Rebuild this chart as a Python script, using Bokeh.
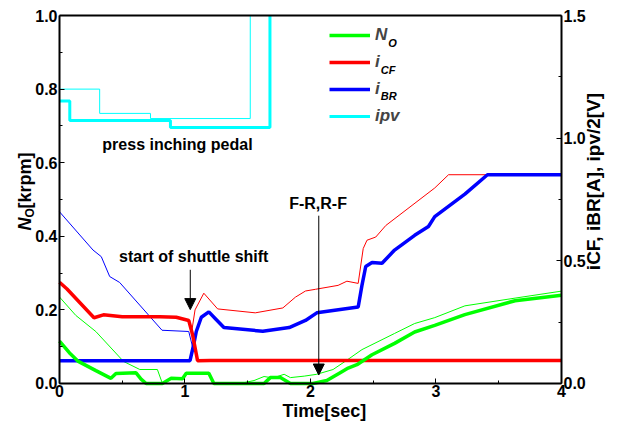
import math
from bokeh.plotting import figure
from bokeh.models import (Range1d, LinearAxis, Label, Legend, LegendItem, Arrow,
                          NormalHead, NumeralTickFormatter, FixedTicker)
from bokeh.embed import file_html
from bokeh.resources import INLINE

FONT = "Liberation Sans"

# ---------------- data ----------------
# Output speed N_O [krpm] (left axis) - thick and thin traces
t_no = [0, 0.08, 0.15, 0.29, 0.41, 0.45, 0.61, 0.65, 0.69, 0.82, 0.89, 0.98, 1.01, 1.19, 1.23,
        1.63, 1.68, 1.76, 1.84, 2.02, 2.13, 2.24, 2.30, 2.37, 2.49, 2.67, 2.83, 2.99, 3.23, 3.63, 4.0]
no = [0.115, 0.083, 0.06, 0.035, 0.014, 0.027, 0.029, 0.012, 0.0, 0.0, 0.014, 0.013, 0.028, 0.028, 0.0,
      0.0, 0.016, 0.016, 0.0, 0.0, 0.008, 0.03, 0.042, 0.051, 0.078, 0.109, 0.14, 0.158, 0.187, 0.225, 0.24]
t_no_thin = [0, 0.13, 0.29, 0.51, 0.64, 0.78, 0.82, 1.44, 1.55, 1.63, 1.70, 1.79, 1.84, 1.95, 2.05,
             2.18, 2.28, 2.41, 2.67, 2.83, 2.99, 3.23, 3.63, 4.0]
no_thin = [0.235, 0.185, 0.141, 0.06, 0.038, 0.038, 0.0, 0.0, 0.008, 0.019, 0.015, 0.025, 0.016, 0.02, 0.025,
           0.038, 0.061, 0.092, 0.136, 0.163, 0.179, 0.211, 0.232, 0.251]

# Clutch current i_CF [A] (right axis)
t_cf = [0, 0.06, 0.275, 0.35, 0.5, 0.8, 0.93, 1.03, 1.06, 1.10, 1.2, 2.0, 3.0, 4.0]
i_cf = [0.413, 0.385, 0.268, 0.28, 0.272, 0.272, 0.27, 0.257, 0.2, 0.093, 0.094, 0.094, 0.094, 0.094]
t_cf_thin = [1.05, 1.08, 1.15, 1.26, 1.56, 1.78, 1.88, 1.96, 2.04, 2.22, 2.29, 2.38, 2.42, 2.45,
             2.52, 2.60, 2.99, 3.10, 3.5, 4.0]
i_cf_thin = [0.2, 0.3, 0.368, 0.304, 0.288, 0.308, 0.352, 0.377, 0.384, 0.40, 0.417, 0.408, 0.55, 0.584,
             0.597, 0.644, 0.797, 0.851, 0.851, 0.851]

# Brake current i_BR [A] (right axis)
t_br = [0, 1.04, 1.07, 1.09, 1.13, 1.19, 1.25, 1.31, 1.62, 1.83, 1.96, 2.05, 2.38, 2.41, 2.44, 2.49,
        2.57, 2.67, 2.83, 2.94, 2.99, 3.23, 3.41, 4.0]
i_br = [0.093, 0.093, 0.16, 0.212, 0.27, 0.292, 0.26, 0.228, 0.213, 0.228, 0.257, 0.288, 0.312, 0.40, 0.477,
        0.493, 0.49, 0.544, 0.604, 0.64, 0.68, 0.772, 0.851, 0.851]
t_br_thin = [0, 0.267, 0.333, 0.40, 0.479, 0.817, 1.03, 1.06]
i_br_thin = [0.70, 0.544, 0.517, 0.436, 0.412, 0.217, 0.212, 0.15]

# Inching pedal voltage ipv/2 [V] (right axis), stepwise; rises off the top of the scale
t_ipv = [0, 0.082, 0.884, 1.677]
ipv = [1.152, 1.072, 1.044, 1.5]
t_ipv_thin = [0, 0.32, 0.725, 1.52]
ipv_thin = [1.2, 1.101, 1.08, 1.5]

x_ticks = [0, 1, 2, 3, 4]
x_minor = [0.5, 1.5, 2.5, 3.5]
yl_ticks = [0.0, 0.2, 0.4, 0.6, 0.8, 1.0]
yl_minor = [0.1, 0.3, 0.5, 0.7, 0.9]
yr_ticks = [0.0, 0.5, 1.0, 1.5]
yr_minor = [0.25, 0.75, 1.25]

GREEN, RED, BLUE, CYAN = "#00FF00", "#FF0000", "#0000FF", "#00FFFF"

# ---------------- figure ----------------
# The frame covers the whole canvas; the visible plot box (t 0..4, N 0..1) is
# drawn by axes fixed at the box edges, so the axis titles can be drawn as
# labels around the box.
XL, XR = -0.4701, 4.3586
YB, YT = -0.106, 1.0408
p = figure(width=606, height=422, output_backend="svg", toolbar_location=None,
           x_range=Range1d(XL, XR), y_range=Range1d(YB, YT),
           min_border_left=0, min_border_right=0, min_border_top=0, min_border_bottom=0)
p.extra_y_ranges = {"cur": Range1d(YB * 1.5, YT * 1.5)}

p.xgrid.visible = False
p.ygrid.visible = False
p.outline_line_color = None
p.background_fill_color = "white"
p.border_fill_color = "white"

xaxis = p.xaxis[0]
yaxis = p.yaxis[0]
xaxis.fixed_location = 0.0
xaxis.bounds = (0, 4)
yaxis.fixed_location = 0.0
yaxis.bounds = (0, 1)
raxis = LinearAxis(y_range_name="cur", fixed_location=4.0, bounds=(0, 1.5))
p.add_layout(raxis, "right")
taxis = LinearAxis(fixed_location=1.0, bounds=(0, 4), ticker=FixedTicker(ticks=[], minor_ticks=[]))
p.add_layout(taxis, "above")

xaxis.ticker = FixedTicker(ticks=x_ticks, minor_ticks=x_minor)
yaxis.ticker = FixedTicker(ticks=yl_ticks, minor_ticks=yl_minor)
raxis.ticker = FixedTicker(ticks=yr_ticks, minor_ticks=yr_minor)
xaxis.formatter = NumeralTickFormatter(format="0")
yaxis.formatter = NumeralTickFormatter(format="0.0")
raxis.formatter = NumeralTickFormatter(format="0.0")

for ax in [xaxis, yaxis, raxis, taxis]:
    ax.axis_line_width = 2
    ax.axis_line_color = "black"
    ax.major_tick_in = 5
    ax.major_tick_out = 0
    ax.minor_tick_in = 3
    ax.minor_tick_out = 0
    ax.major_tick_line_color = "black"
    ax.minor_tick_line_color = "black"
    ax.major_label_text_font = FONT
    ax.major_label_text_font_style = "bold"
    ax.major_label_text_font_size = "16px"
    ax.major_label_text_color = "black"
    ax.major_label_standoff = 2
    ax.axis_label = None

# ---------------- lines ----------------
p.step(t_ipv_thin, ipv_thin, mode="after", color=CYAN, line_width=1, y_range_name="cur")
r_ipv = p.step(t_ipv, ipv, mode="after", color=CYAN, line_width=3, y_range_name="cur")

p.line(t_br_thin, i_br_thin, color=BLUE, line_width=1, y_range_name="cur")
p.line(t_cf_thin, i_cf_thin, color=RED, line_width=1, y_range_name="cur")
p.line(t_no_thin, no_thin, color=GREEN, line_width=1)

r_br = p.line(t_br, i_br, color=BLUE, line_width=3.5, y_range_name="cur")
r_cf = p.line(t_cf, i_cf, color=RED, line_width=3.5, y_range_name="cur")
r_no = p.line(t_no, no, color=GREEN, line_width=3.5)

# ---------------- legend ----------------
legend = Legend(items=[LegendItem(label="N", renderers=[r_no]),
                       LegendItem(label="i", renderers=[r_cf]),
                       LegendItem(label="i", renderers=[r_br]),
                       LegendItem(label="ipv", renderers=[r_ipv])],
                location=(329, 296), glyph_width=41, glyph_height=20, label_height=20,
                spacing=7, padding=0, margin=0, label_standoff=5,
                border_line_color=None, background_fill_alpha=0,
                label_text_font=FONT, label_text_font_style="bold italic",
                label_text_font_size="17px")
p.add_layout(legend)

def lab(text, x, y, size, style="bold", angle=0, align="center", baseline="middle"):
    p.add_layout(Label(x=x, y=y, text=text, text_font=FONT, text_font_style=style,
                       text_font_size=size, text_color="black", angle=angle,
                       text_align=align, text_baseline=baseline))

# legend subscripts
lab("O", 2.619, 0.925, "11px", "bold italic", align="left")
lab("CF", 2.56, 0.852, "11px", "bold italic", align="left")
lab("BR", 2.56, 0.781, "11px", "bold italic", align="left")

# axis titles
ang = math.pi / 2
lab("N", -0.278, 0.416, "18px", "bold italic", angle=ang, align="left")
lab("O", -0.232, 0.451, "12px", "bold", angle=ang, align="left")
lab("[krpm]", -0.278, 0.4755, "18px", "bold", angle=ang, align="left")
lab("iCF, iBR[A], ipv/2[V]", 4.255, 0.549, "19px", "bold", angle=ang)
lab("Time[sec]", 2.111, -0.075, "18px", "bold")

# annotations
lab("press inching pedal", 0.94, 0.649, "16px", "bold")
lab("start of shuttle shift", 1.07, 0.344, "16px", "bold")
lab("F-R,R-F", 2.06, 0.489, "16px", "bold")

p.add_layout(Arrow(end=NormalHead(size=11, fill_color="black", line_color="black"),
                   x_start=1.042, y_start=0.309, x_end=1.042, y_end=0.2008,
                   line_color="black", line_width=1))
p.add_layout(Arrow(end=NormalHead(size=11, fill_color="black", line_color="black"),
                   x_start=2.066, y_start=0.456, x_end=2.066, y_end=0.023,
                   line_color="black", line_width=1))

open("out.html", "w").write(file_html(p, INLINE))
